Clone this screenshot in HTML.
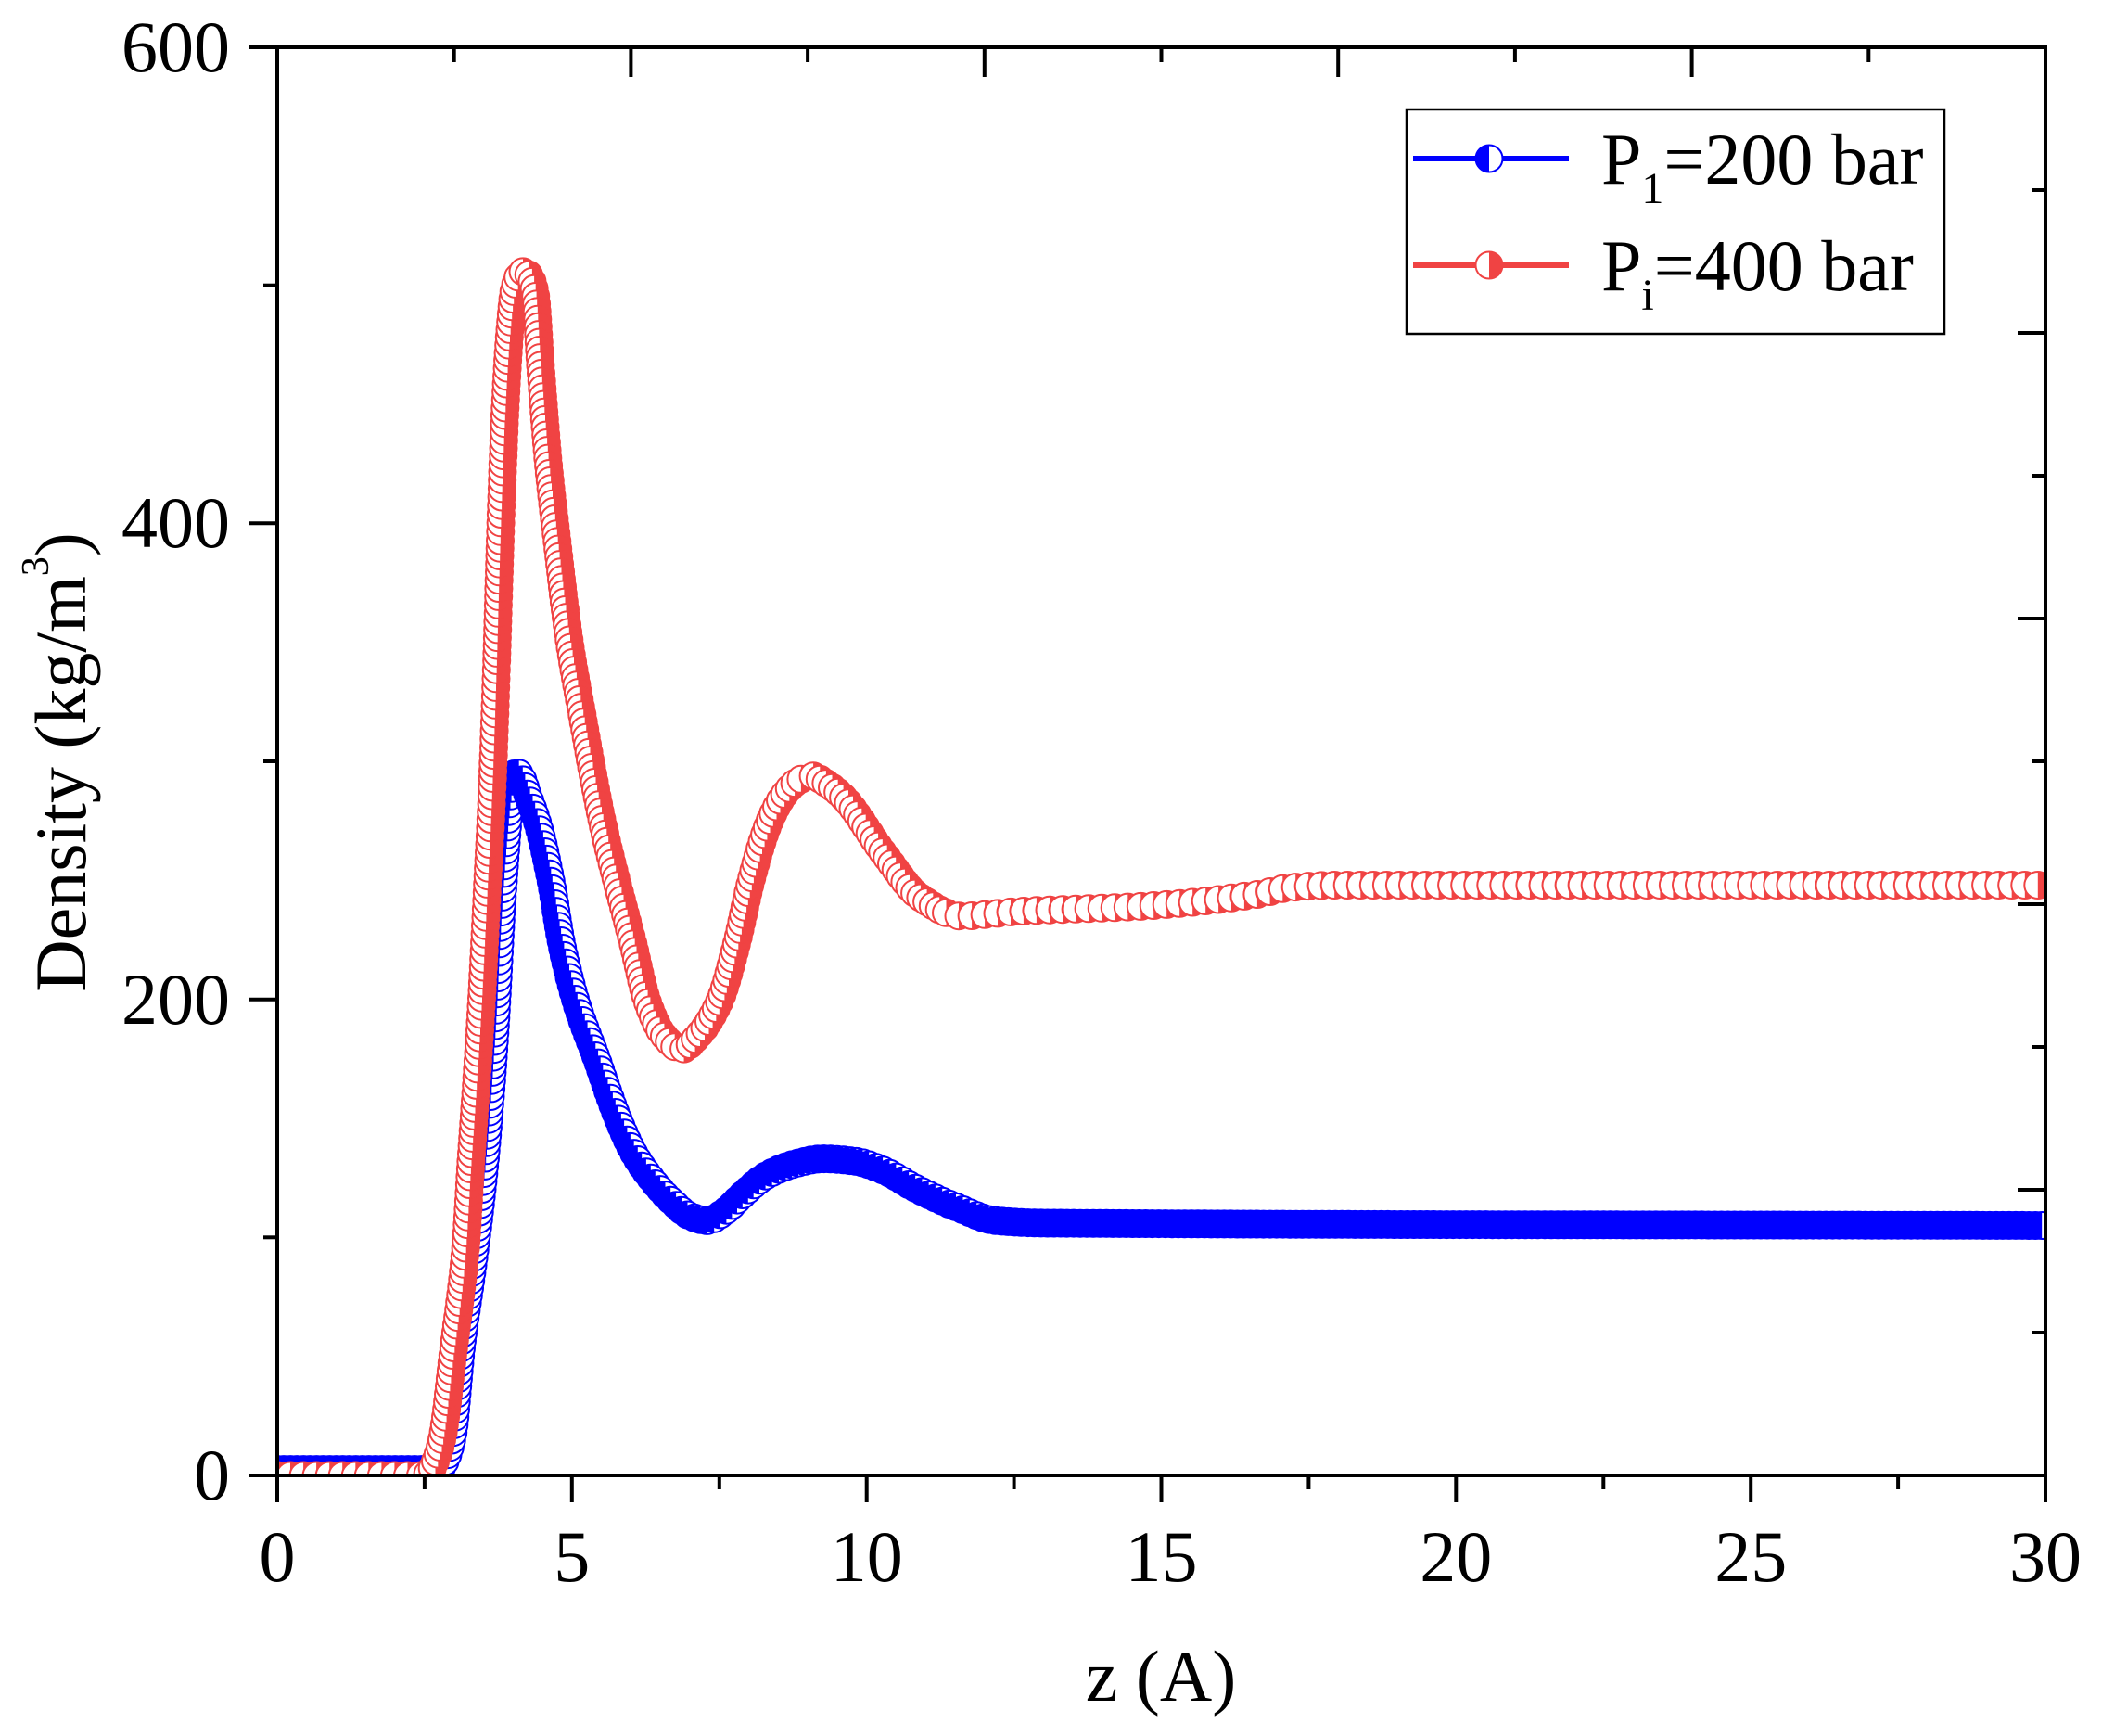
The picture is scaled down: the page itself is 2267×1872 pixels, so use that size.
<!DOCTYPE html>
<html>
<head>
<meta charset="utf-8">
<style>
html,body{margin:0;padding:0;background:#fff;}
svg{display:block;}
text{font-family:"Liberation Serif","Times New Roman",serif;fill:#000;}
</style>
</head>
<body>
<svg id="chart" xmlns="http://www.w3.org/2000/svg" xmlns:xlink="http://www.w3.org/1999/xlink" width="2267" height="1872" viewBox="0 0 2267 1872">
<defs>
  <clipPath id="plotclip"><rect x="299" y="51" width="1907" height="1540"/></clipPath>
  <g id="mb"><circle r="14.5" fill="#fff" stroke="#0000ff" stroke-width="2"/><path d="M0,-14.5 A14.5,14.5 0 0,0 0,14.5 Z" fill="#0000ff"/></g>
  <g id="mr"><circle r="14.5" fill="#fff" stroke="#f04343" stroke-width="2"/><path d="M0,-14.5 A14.5,14.5 0 0,1 0,14.5 Z" fill="#f04343"/></g>
</defs>
<rect width="2267" height="1872" fill="#fff"/>

<g clip-path="url(#plotclip)">
  <g id="blueSeries"></g>
  <g id="redSeries"></g>
</g>

<!-- frame -->
<g stroke="#000" stroke-width="4" fill="none" stroke-linecap="square">
  <line x1="299" y1="51" x2="299" y2="1591"/>
  <line x1="299" y1="1591" x2="2206" y2="1591"/>
  <line x1="299" y1="51" x2="2206" y2="51"/>
  <line x1="2206" y1="51" x2="2206" y2="1591"/>
</g>

<!-- ticks -->
<g stroke="#000" stroke-width="4" fill="none">
  <line x1="299" y1="1591" x2="299" y2="1620"/>
  <line x1="616.8" y1="1591" x2="616.8" y2="1620"/>
  <line x1="934.7" y1="1591" x2="934.7" y2="1620"/>
  <line x1="1252.5" y1="1591" x2="1252.5" y2="1620"/>
  <line x1="1570.3" y1="1591" x2="1570.3" y2="1620"/>
  <line x1="1888.2" y1="1591" x2="1888.2" y2="1620"/>
  <line x1="2206" y1="1591" x2="2206" y2="1620"/>
  <line x1="457.9" y1="1591" x2="457.9" y2="1606"/>
  <line x1="775.8" y1="1591" x2="775.8" y2="1606"/>
  <line x1="1093.6" y1="1591" x2="1093.6" y2="1606"/>
  <line x1="1411.4" y1="1591" x2="1411.4" y2="1606"/>
  <line x1="1729.3" y1="1591" x2="1729.3" y2="1606"/>
  <line x1="2047.1" y1="1591" x2="2047.1" y2="1606"/>
  <line x1="680.4" y1="51" x2="680.4" y2="83"/>
  <line x1="1061.8" y1="51" x2="1061.8" y2="83"/>
  <line x1="1443.2" y1="51" x2="1443.2" y2="83"/>
  <line x1="1824.6" y1="51" x2="1824.6" y2="83"/>
  <line x1="489.7" y1="51" x2="489.7" y2="67"/>
  <line x1="871.1" y1="51" x2="871.1" y2="67"/>
  <line x1="1252.5" y1="51" x2="1252.5" y2="67"/>
  <line x1="1633.9" y1="51" x2="1633.9" y2="67"/>
  <line x1="2015.3" y1="51" x2="2015.3" y2="67"/>
  <line x1="269" y1="1591" x2="299" y2="1591"/>
  <line x1="269" y1="1077.7" x2="299" y2="1077.7"/>
  <line x1="269" y1="564.3" x2="299" y2="564.3"/>
  <line x1="269" y1="51" x2="299" y2="51"/>
  <line x1="284" y1="1334.3" x2="299" y2="1334.3"/>
  <line x1="284" y1="821" x2="299" y2="821"/>
  <line x1="284" y1="307.7" x2="299" y2="307.7"/>
  <line x1="2176" y1="1283" x2="2206" y2="1283"/>
  <line x1="2176" y1="975" x2="2206" y2="975"/>
  <line x1="2176" y1="667" x2="2206" y2="667"/>
  <line x1="2176" y1="359" x2="2206" y2="359"/>
  <line x1="2192" y1="1437" x2="2206" y2="1437"/>
  <line x1="2192" y1="1129" x2="2206" y2="1129"/>
  <line x1="2192" y1="821" x2="2206" y2="821"/>
  <line x1="2192" y1="513" x2="2206" y2="513"/>
  <line x1="2192" y1="205" x2="2206" y2="205"/>
</g>

<!-- y tick labels -->
<g font-size="78" text-anchor="end">
  <text x="248" y="77">600</text>
  <text x="248" y="590">400</text>
  <text x="248" y="1104">200</text>
  <text x="248" y="1617">0</text>
</g>
<!-- x tick labels -->
<g font-size="78" text-anchor="middle">
  <text x="299" y="1705">0</text>
  <text x="616.8" y="1705">5</text>
  <text x="934.7" y="1705">10</text>
  <text x="1252.5" y="1705">15</text>
  <text x="1570.3" y="1705">20</text>
  <text x="1888.2" y="1705">25</text>
  <text x="2206" y="1705">30</text>
</g>

<!-- axis titles -->
<text x="1252" y="1834" font-size="78" text-anchor="middle">z (A)</text>
<text transform="translate(92,822) rotate(-90)" font-size="78" text-anchor="middle">Density (kg/m<tspan font-size="42" dy="-40">3</tspan><tspan dy="40">)</tspan></text>

<!-- legend -->
<rect x="1517" y="118" width="580" height="242" fill="#fff" stroke="#000" stroke-width="2.5"/>
<line x1="1524" y1="171" x2="1692" y2="171" stroke="#0000ff" stroke-width="6"/>
<use href="#mb" xlink:href="#mb" x="1606" y="171"/>
<line x1="1524" y1="286" x2="1692" y2="286" stroke="#f04343" stroke-width="6"/>
<use href="#mr" xlink:href="#mr" x="1606" y="286"/>
<text x="1727" y="198" font-size="78">P<tspan font-size="48" dy="21">1</tspan><tspan dy="-21">=200 bar</tspan></text>
<text x="1727" y="313" font-size="78">P<tspan font-size="48" dy="21">i</tspan><tspan dy="-21">=400 bar</tspan></text>
</svg>

<script>
(function(){
  var NS="http://www.w3.org/2000/svg", XL="http://www.w3.org/1999/xlink";
  var X0=299, X1=2206, Y0=1591, Y1=51;
  function px(z){return X0+(X1-X0)*z/30;}
  function py(r){return Y0-(Y0-Y1)*r/600;}
  function mono(pts){
    var n=pts.length, xs=[], ys=[], d=[], m=new Array(n), i;
    for(i=0;i<n;i++){xs.push(pts[i][0]);ys.push(pts[i][1]);}
    for(i=0;i<n-1;i++) d.push((ys[i+1]-ys[i])/(xs[i+1]-xs[i]));
    m[0]=d[0]; m[n-1]=d[n-2];
    for(i=1;i<n-1;i++){
      if(d[i-1]*d[i]<=0){m[i]=0;}
      else{
        var h0=xs[i]-xs[i-1], h1=xs[i+1]-xs[i];
        var w1=2*h1+h0, w2=h1+2*h0;
        m[i]=(w1+w2)/(w1/d[i-1]+w2/d[i]);
      }
    }
    return function(x){
      var k=0; while(k<n-2 && x>xs[k+1]) k++;
      var h=xs[k+1]-xs[k], t=(x-xs[k])/h, t2=t*t, t3=t2*t;
      return (2*t3-3*t2+1)*ys[k]+(t3-2*t2+t)*h*m[k]+(-2*t3+3*t2)*ys[k+1]+(t3-t2)*h*m[k+1];
    };
  }
  function draw(gid, sym, pts, stepSteep, stepFlat){
    var f=mono(pts), g=document.getElementById(gid);
    var frag=document.createDocumentFragment();
    var lx=px(0), ly=py(f(0)), acc=stepFlat;
    for(var z=0; z<=30.0001; z+=0.001){
      var x=px(z), y=py(f(z));
      var dx=x-lx, dy=y-ly;
      var seg=Math.sqrt(dx*dx+dy*dy);
      acc+=seg;
      lx=x; ly=y;
      var slope = dx>0 ? Math.abs(dy/dx) : 10;
      var step = slope<0.35 ? stepFlat : stepSteep;
      if(acc>=step){
        acc=0;
        var u=document.createElementNS(NS,"use");
        u.setAttribute("href","#"+sym);
        u.setAttributeNS(XL,"xlink:href","#"+sym);
        u.setAttribute("x",x.toFixed(1));
        u.setAttribute("y",y.toFixed(1));
        frag.appendChild(u);
      }
    }
    g.appendChild(frag);
  }
  var red=[[0,0],[2.5,0],[2.6,2],[2.7,7],[2.8,16],[3.0,55],[3.19,94],[3.29,133],[3.38,165],[3.47,201],[3.56,245],[3.64,285],[3.72,340],[3.79,398],[3.87,450],[3.95,482],[4.02,498],[4.1,504],[4.2,506],[4.3,503],[4.38,496],[4.47,465],[4.6,425],[4.73,396],[4.97,348],[5.14,324],[5.52,274],[6.03,224],[6.28,199],[6.55,185],[6.86,179],[7.15,185],[7.5,199],[7.8,224],[8.03,249],[8.34,274],[8.6,286],[8.85,292],[9.06,294],[9.3,291],[9.6,285],[10.3,261],[10.9,243],[11.6,235],[12.6,237],[14.6,239],[16.6,244],[17.2,247],[18,248],[30,248]];
  var blue=[[0,2.5],[2.75,2.5],[2.85,6],[2.97,16],[3.13,55],[3.35,94],[3.53,133],[3.65,170],[3.73,201],[3.8,235],[3.9,270],[3.97,288],[4.05,296],[4.15,293],[4.25,286],[4.42,274],[4.65,249],[4.82,224],[5.07,199],[5.42,175],[5.78,150],[6.06,135],[6.4,123],[6.7,115],[7.0,109],[7.3,107],[7.6,111],[7.9,118],[8.3,126],[8.8,131],[9.25,133],[9.8,132],[10.3,128],[10.8,121],[11.5,113],[12.2,107],[13,106],[30,105]];
  draw("blueSeries","mb",blue,8,7);
  draw("redSeries","mr",red,8,14);
})();
</script>
</body>
</html>
